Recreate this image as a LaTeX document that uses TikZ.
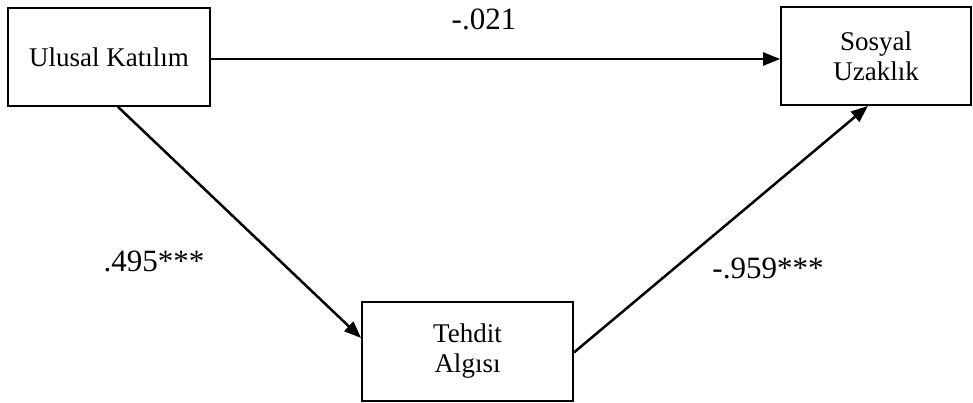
\documentclass[tikz,border=0pt]{standalone}
\usepackage{fontspec}
\setmainfont{Liberation Serif}
\usetikzlibrary{arrows.meta}
\begin{document}
\begin{tikzpicture}[x=1pt,y=-1pt,
  varbox/.style={draw,line width=1.8pt,inner sep=0pt,align=center,font=\fontsize{27}{30}\selectfont},
  path/.style={line width=2.5pt,-{Triangle[length=17pt,width=13pt]}},
  coef/.style={font=\fontsize{31}{34}\selectfont,inner sep=0pt}]
\useasboundingbox (0,0) rectangle (973,403);
\node[varbox,minimum width=202pt,minimum height=98pt] (ul) at (109,57) {Ulusal Katılım};
\node[varbox,minimum width=190pt,minimum height=98pt] (su) at (876,56) {Sosyal\\Uzaklık};
\node[varbox,minimum width=211pt,minimum height=99pt] (ta) at (467.5,351.5) {Tehdit\\Algısı};
\draw[path] ([yshift=-2pt]ul.east) -- ([yshift=-3pt]su.west);
\draw[path] ([xshift=9pt]ul.south) -- ([yshift=13.5pt]ta.west);
\draw[path] ([yshift=-1pt]ta.east) -- ([xshift=-8pt]su.south);
\node[coef] (c1) at (484,19) {-.021};
\node[coef] (c2) at (154,261) {.495***};
\node[coef] (c3) at (768,268) {-.959***};
\end{tikzpicture}
\end{document}
